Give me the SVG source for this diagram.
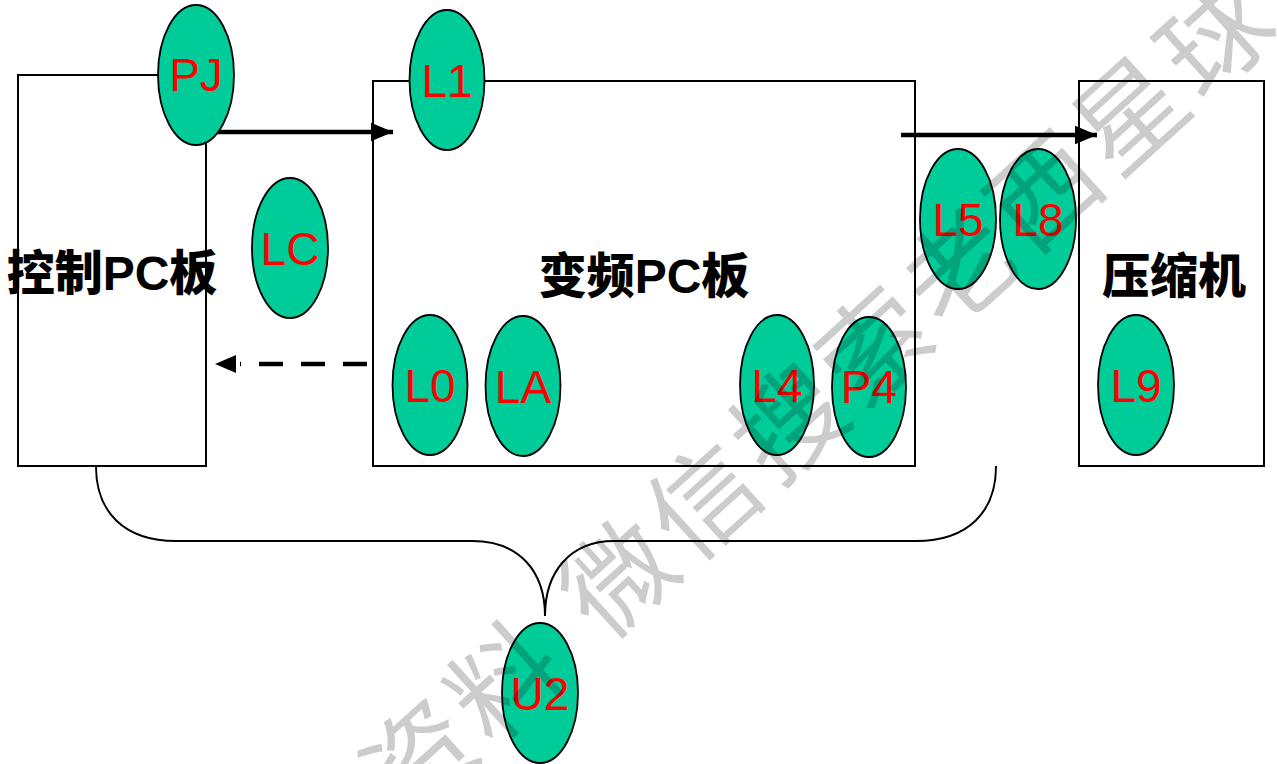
<svg xmlns="http://www.w3.org/2000/svg" width="1277" height="764" viewBox="0 0 1277 764">
<style>
.box{fill:#fff;stroke:#000;stroke-width:2}
.ell{fill:#00CC99;stroke:#000;stroke-width:1.8}
.lbl{font-family:"Liberation Sans",Arial,sans-serif;font-size:46px;fill:#FF0000;text-anchor:middle}
.title{font-family:"Liberation Sans","Noto Sans CJK SC",sans-serif;font-size:48px;font-weight:900;fill:#000;text-anchor:middle}
.wire{fill:none;stroke:#000;stroke-width:2}
.arr{fill:none;stroke:#000;stroke-width:4.5}
.wm{font-family:"Noto Sans CJK SC",sans-serif;font-size:108px;fill:#000;fill-opacity:0.2;letter-spacing:7px}
</style>
<defs>
<marker id="ah" markerWidth="6" markerHeight="6" refX="5" refY="3" orient="auto" markerUnits="strokeWidth">
<path d="M0,0.9 L5,3 L0,5.1 Z" fill="#000"/>
</marker>
</defs>
<g id="control-board">
<rect class="box" x="18" y="75" width="188" height="391"/>
<text class="title" x="112" y="290">控制PC板</text>
</g>
<g id="inverter-board">
<rect class="box" x="373" y="81" width="542" height="385"/>
<text class="title" x="644" y="293">变频PC板</text>
</g>
<g id="compressor">
<rect class="box" x="1079" y="81" width="185" height="385"/>
<text class="title" x="1174" y="293">压缩机</text>
</g>
<g id="connectors">
<path class="arr" d="M216,132 L393,132" marker-end="url(#ah)"/>
<path class="arr" d="M901,135 L1097,135" marker-end="url(#ah)"/>
<path class="arr" d="M367,364 L240,364" stroke-dasharray="24 18"/>
<path d="M215,364 L236,355 L236,373 Z" fill="#000"/>
<path class="wire" d="M96,466 C96,512 124,541 176,541 L472,541 C520,541 545,572 545,616"/>
<path class="wire" d="M996,466 C996,512 968,541 916,541 L614,541 C570,541 545,572 545,616"/>
</g>
<g id="PJ"><ellipse class="ell" cx="196" cy="75" rx="38" ry="70"/><text class="lbl" x="196" y="91">PJ</text></g>
<g id="L1"><ellipse class="ell" cx="447" cy="80" rx="37.5" ry="70"/><text class="lbl" x="447" y="97">L1</text></g>
<g id="LC"><ellipse class="ell" cx="290" cy="248" rx="38" ry="70"/><text class="lbl" x="290" y="265">LC</text></g>
<g id="L0"><ellipse class="ell" cx="430" cy="385" rx="37.5" ry="70"/><text class="lbl" x="430" y="402">L0</text></g>
<g id="LA"><ellipse class="ell" cx="523" cy="386" rx="37.5" ry="70"/><text class="lbl" x="523" y="403">LA</text></g>
<g id="L4"><ellipse class="ell" cx="777" cy="385" rx="37" ry="70"/><text class="lbl" x="777" y="402">L4</text></g>
<g id="P4"><ellipse class="ell" cx="869" cy="387" rx="37" ry="70"/><text class="lbl" x="869" y="403">P4</text></g>
<g id="L5"><ellipse class="ell" cx="958" cy="219" rx="38" ry="70"/><text class="lbl" x="958" y="236">L5</text></g>
<g id="L8"><ellipse class="ell" cx="1038" cy="219" rx="38" ry="70"/><text class="lbl" x="1038" y="236">L8</text></g>
<g id="L9"><ellipse class="ell" cx="1136" cy="385" rx="38" ry="70"/><text class="lbl" x="1136" y="402">L9</text></g>
<g id="U2"><ellipse class="ell" cx="540" cy="693" rx="38" ry="70"/><text class="lbl" x="540" y="710">U2</text></g>
<g id="watermark" transform="translate(619,577) rotate(-42.2)">
<text class="wm" x="-55" y="40">微信搜索老西星球</text>
<text class="wm" x="-324" y="40">资料</text>
</g>
</svg>
